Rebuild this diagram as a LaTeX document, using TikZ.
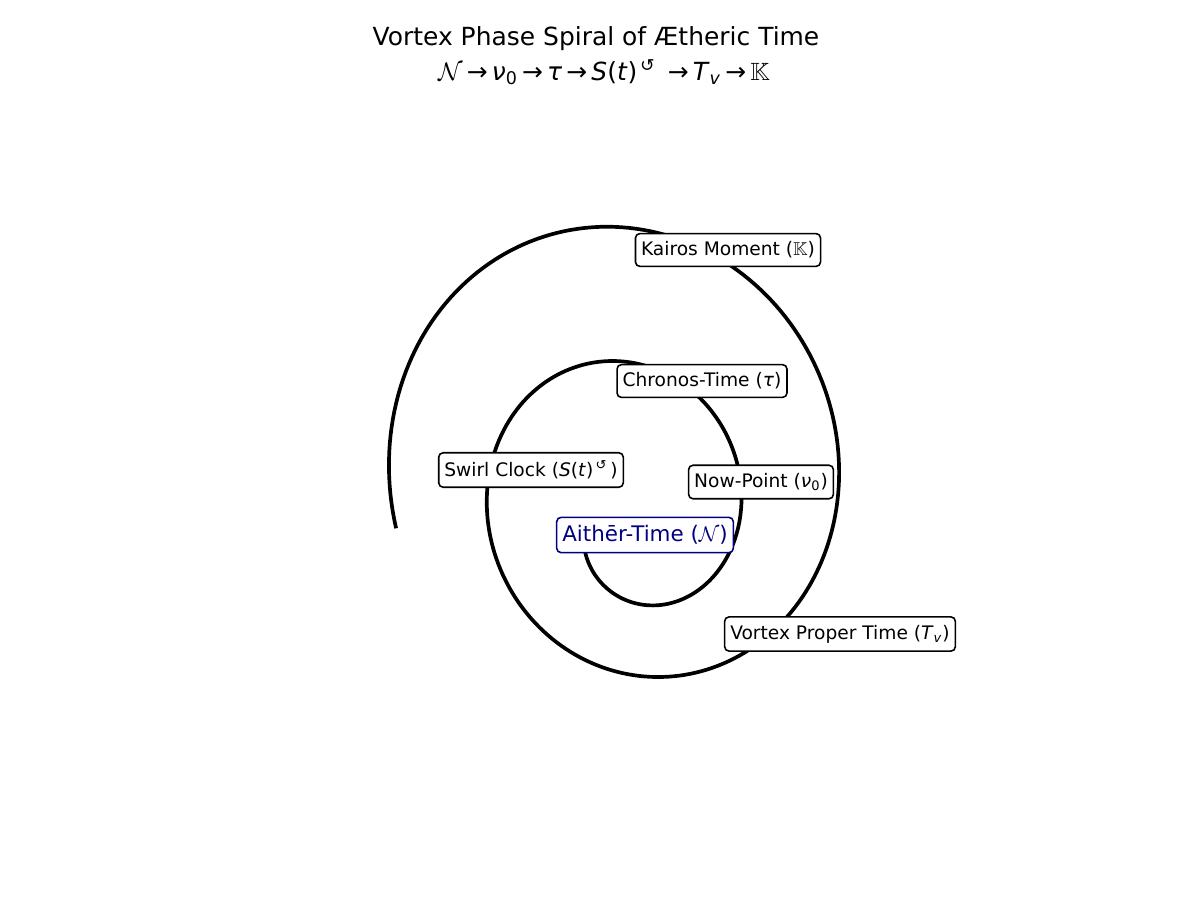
\documentclass[tikz,border=0pt]{standalone}
\usepackage{fontspec}
\setmainfont{DejaVu Sans}
\usepackage{amssymb}
\usetikzlibrary{positioning}

\definecolor{aithernavy}{RGB}{0,0,128}

\tikzset{
  phasebox/.style={draw=black, line width=0.9pt, fill=white,
    rounded corners=2.5pt, inner xsep=3.2pt, inner ysep=4.6pt,
    font=\fontsize{10.6}{12}\selectfont},
  corebox/.style={phasebox, draw=aithernavy, text=aithernavy,
    font=\fontsize{12.2}{14}\selectfont},
  titletext/.style={font=\fontsize{14.2}{17}\selectfont},
}

\begin{document}
\begin{tikzpicture}[x=0.02cm, y=-0.02cm]
\useasboundingbox (0,0) rectangle (1200,900);

% spiral of the phase
\draw[line width=2.1pt] plot[domain=3.1416:15.96, samples=400, variable=\t]
  ({638.5+15.6*(\t+0.29)*cos(\t r)-0.8*(\t+0.29)*sin(\t r)},
   {541-16.47*(\t+0.587)*sin(\t r)-5.01*\t});

\node[titletext] (title) at (596,39) {Vortex Phase Spiral of Ætheric Time};
\node[titletext] (chain) at (604,72)
  {$\mathcal{N}$\,→\,\textit{ν}\textsubscript{0}\,→\,\textit{τ}\,→\,\textit{S}(\textit{t})\textsuperscript{\,↺} \,→\,\textit{T}\textsubscript{\textit{v}}\,→\,$\mathbb{K}$};

\node[phasebox] (kairos) at (728,250) {Kairos Moment ($\mathbb{K}$)};
\node[phasebox] (chronos) at (702,381) {Chronos-Time (\textit{τ})};
\node[phasebox] (swirl) at (531,470) {Swirl Clock (\textit{S}(\textit{t})\textsuperscript{\,↺}\,)};
\node[phasebox] (now) at (761,482) {Now-Point (\textit{ν}\textsubscript{0})};
\node[corebox] (aither) at (645,535) {Aithēr-Time ($\mathcal{N}$)};
\node[phasebox] (proper) at (840,634) {Vortex Proper Time (\textit{T}\textsubscript{\textit{v}})};
\end{tikzpicture}
\end{document}
